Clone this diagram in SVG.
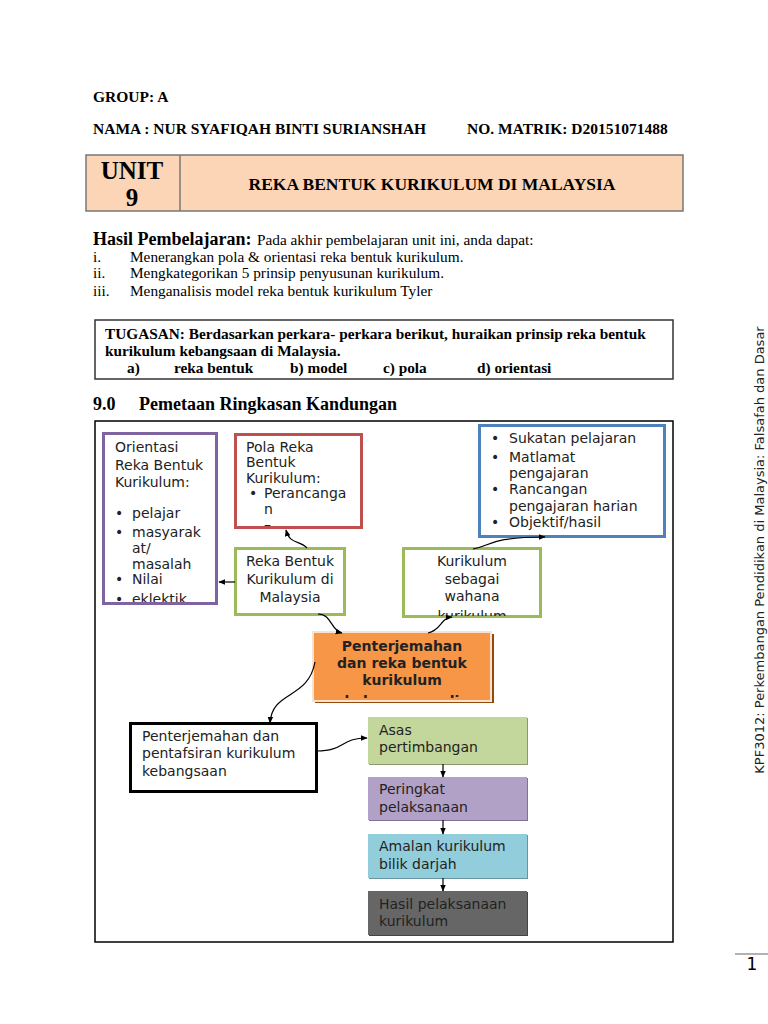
<svg xmlns="http://www.w3.org/2000/svg" width="768" height="1024" viewBox="0 0 768 1024">
<style>
.sb{font-family:"Liberation Serif","Times New Roman",serif;font-weight:bold;fill:#000}
.sr{font-family:"Liberation Serif","Times New Roman",serif;fill:#000}
.n{font-family:"DejaVu Sans",Verdana,sans-serif;font-size:14px;fill:#222}
.c{fill:none;stroke:#000;stroke-width:1.2}
</style>
<defs>
<marker id="ah" viewBox="0 0 10 10" refX="9" refY="5" markerWidth="7" markerHeight="7" orient="auto-start-reverse" markerUnits="userSpaceOnUse">
<path d="M0,1 L10,5 L0,9 z" fill="#000"/>
</marker>
<clipPath id="cOr"><rect x="105" y="435" width="110" height="167"/></clipPath>
<clipPath id="cPo"><rect x="237" y="436" width="123" height="90"/></clipPath>
<clipPath id="cKu"><rect x="405" y="550" width="134" height="66"/></clipPath>
<clipPath id="cOg"><rect x="316" y="635" width="174" height="63"/></clipPath>
</defs>
<rect width="768" height="1024" fill="#fff"/>

<g id="header">
<text class="sb" x="93" y="102" font-size="15.5">GROUP: A</text>
<text class="sb" x="93" y="134" font-size="15.5">NAMA  : NUR SYAFIQAH BINTI SURIANSHAH</text>
<text class="sb" x="467" y="134" font-size="15.5">NO. MATRIK: D20151071488</text>
</g>

<g id="unit-table">
<rect x="86" y="155" width="597" height="56" fill="#fbd5b5" stroke="#777" stroke-width="1.5"/>
<line x1="180" y1="155" x2="180" y2="211" stroke="#777" stroke-width="1.5"/>
<text class="sb" x="132" y="179" font-size="25" text-anchor="middle">UNIT</text>
<text class="sb" x="132" y="206" font-size="25" text-anchor="middle">9</text>
<text class="sb" x="432" y="190" font-size="17.5" text-anchor="middle">REKA BENTUK KURIKULUM DI MALAYSIA</text>
</g>

<g id="hasil">
<text class="sb" x="93" y="245" font-size="18">Hasil Pembelajaran:</text>
<text class="sr" x="257" y="245" font-size="15.3">Pada akhir pembelajaran unit ini, anda dapat:</text>
<text class="sr" x="93" y="262" font-size="15.3">i.</text>
<text class="sr" x="130" y="262" font-size="15.3">Menerangkan pola &amp; orientasi reka bentuk kurikulum.</text>
<text class="sr" x="93" y="278" font-size="15.3">ii.</text>
<text class="sr" x="130" y="278" font-size="15.3">Mengkategorikan 5 prinsip penyusunan kurikulum.</text>
<text class="sr" x="93" y="296" font-size="15.3">iii.</text>
<text class="sr" x="130" y="296" font-size="15.3">Menganalisis model reka bentuk kurikulum Tyler</text>
</g>

<g id="tugasan">
<rect x="95" y="320" width="578" height="59" fill="#fff" stroke="#333" stroke-width="1.5"/>
<text class="sb" x="105" y="339" font-size="15.3">TUGASAN: Berdasarkan perkara- perkara berikut, huraikan prinsip reka bentuk</text>
<text class="sb" x="105" y="356" font-size="15.3">kurikulum kebangsaan di Malaysia.</text>
<text class="sb" x="127" y="373" font-size="15.3">a)</text>
<text class="sb" x="174" y="373" font-size="15.3">reka bentuk</text>
<text class="sb" x="290" y="373" font-size="15.3">b) model</text>
<text class="sb" x="383" y="373" font-size="15.3">c) pola</text>
<text class="sb" x="477" y="373" font-size="15.3">d) orientasi</text>
</g>

<g id="section-title">
<text class="sb" x="93" y="410" font-size="18">9.0</text>
<text class="sb" x="139" y="410" font-size="18">Pemetaan Ringkasan Kandungan</text>
</g>

<rect id="frame" x="95" y="421" width="578" height="521" fill="none" stroke="#000" stroke-width="1.5"/>

<g id="orientasi">
<rect x="103.5" y="433.5" width="113" height="170" fill="#fff" stroke="#8064a2" stroke-width="3"/>
<g clip-path="url(#cOr)">
<text class="n" x="115" y="452">Orientasi</text>
<text class="n" x="115" y="470">Reka Bentuk</text>
<text class="n" x="115" y="487">Kurikulum:</text>
<text class="n" x="115" y="518">•</text><text class="n" x="132" y="518">pelajar</text>
<text class="n" x="115" y="537">•</text><text class="n" x="132" y="537">masyarak</text>
<text class="n" x="132" y="553">at/</text>
<text class="n" x="132" y="569">masalah</text>
<text class="n" x="115" y="584">•</text><text class="n" x="132" y="584">Nilai</text>
<text class="n" x="115" y="604">•</text><text class="n" x="132" y="604">eklektik</text>
</g>
</g>

<g id="pola">
<rect x="235.5" y="434.5" width="126" height="93" fill="#fff" stroke="#c0504d" stroke-width="3"/>
<g clip-path="url(#cPo)">
<text class="n" x="246" y="452">Pola Reka</text>
<text class="n" x="246" y="467">Bentuk</text>
<text class="n" x="246" y="483">Kurikulum:</text>
<text class="n" x="249" y="498">•</text><text class="n" x="264" y="498">Perancanga</text>
<text class="n" x="264" y="514">n</text>
<text class="n" x="264" y="529">–</text>
</g>
</g>

<g id="reka-bentuk">
<rect x="235.5" y="548.5" width="109" height="66" fill="#fff" stroke="#9bbb59" stroke-width="3"/>
<text class="n" x="290" y="566" text-anchor="middle">Reka Bentuk</text>
<text class="n" x="290" y="584" text-anchor="middle">Kurikulum di</text>
<text class="n" x="290" y="602" text-anchor="middle">Malaysia</text>
</g>

<g id="sukatan">
<rect x="479.5" y="425.5" width="185" height="111" fill="#fff" stroke="#4f81bd" stroke-width="3"/>
<text class="n" x="491" y="443">•</text><text class="n" x="509" y="443">Sukatan pelajaran</text>
<text class="n" x="491" y="462">•</text><text class="n" x="509" y="462">Matlamat</text>
<text class="n" x="509" y="478">pengajaran</text>
<text class="n" x="491" y="494">•</text><text class="n" x="509" y="494">Rancangan</text>
<text class="n" x="509" y="511">pengajaran harian</text>
<text class="n" x="491" y="527">•</text><text class="n" x="509" y="527">Objektif/hasil</text>
</g>

<g id="wahana">
<rect x="403.5" y="548.5" width="137" height="68" fill="#fff" stroke="#9bbb59" stroke-width="3"/>
<g clip-path="url(#cKu)">
<text class="n" x="472" y="566" text-anchor="middle">Kurikulum</text>
<text class="n" x="472" y="584" text-anchor="middle">sebagai</text>
<text class="n" x="472" y="601" text-anchor="middle">wahana</text>
<text class="n" x="472" y="621" text-anchor="middle">kurikulum</text>
</g>
</g>

<g id="penterjemahan-reka">
<rect x="315" y="634" width="179" height="69" fill="#984807"/>
<rect x="313" y="632" width="178" height="69" fill="#f79646" stroke="#f6e3d4" stroke-width="2"/>
<g clip-path="url(#cOg)">
<text class="n" x="402" y="651" text-anchor="middle" font-weight="bold">Penterjemahan</text>
<text class="n" x="402" y="668" text-anchor="middle" font-weight="bold">dan reka bentuk</text>
<text class="n" x="402" y="685" text-anchor="middle" font-weight="bold">kurikulum</text>
<text class="n" x="402" y="706" text-anchor="middle" font-weight="bold">kebangsaan di</text>
</g>
</g>

<g id="pentafsiran">
<rect x="130.5" y="723.5" width="186" height="68" fill="#fff" stroke="#000" stroke-width="3"/>
<text class="n" x="142" y="741">Penterjemahan dan</text>
<text class="n" x="142" y="758">pentafsiran kurikulum</text>
<text class="n" x="142" y="776">kebangsaan</text>
</g>

<g id="asas">
<rect x="369" y="718" width="159" height="47" fill="#8a9a6c"/>
<rect x="368" y="717" width="159" height="47" fill="#c3d69b"/>
<text class="n" x="379" y="735">Asas</text>
<text class="n" x="379" y="752">pertimbangan</text>
</g>

<g id="peringkat">
<rect x="369" y="778" width="159" height="43" fill="#7f7296"/>
<rect x="368" y="777" width="159" height="43" fill="#b2a1c7"/>
<text class="n" x="379" y="794">Peringkat</text>
<text class="n" x="379" y="812">pelaksanaan</text>
</g>

<g id="amalan">
<rect x="369" y="835" width="159" height="44" fill="#6895a1"/>
<rect x="368" y="834" width="159" height="44" fill="#92cddc"/>
<text class="n" x="379" y="851">Amalan kurikulum</text>
<text class="n" x="379" y="869">bilik darjah</text>
</g>

<g id="hasil-pelaksanaan">
<rect x="369" y="892" width="159" height="44" fill="#444"/>
<rect x="368" y="891" width="159" height="44" fill="#666"/>
<text class="n" x="379" y="909">Hasil pelaksanaan</text>
<text class="n" x="379" y="926">kurikulum</text>
</g>

<g id="connectors">
<path class="c" d="M235,582 L219,582" marker-end="url(#ah)"/>
<path class="c" d="M307,548 C300,540 290,545 286,530" marker-end="url(#ah)"/>
<path class="c" d="M318,614 C332,614 330,630 342,633" marker-end="url(#ah)"/>
<path class="c" d="M428,633 C442,630 440,618 452,617" marker-end="url(#ah)"/>
<path class="c" d="M473,549 C490,546 490,537 545,537" marker-end="url(#ah)"/>
<path class="c" d="M315,662 C308,700 272,690 270,723" marker-end="url(#ah)"/>
<path class="c" d="M317,751 C345,751 340,738 367,738" marker-end="url(#ah)"/>
<path class="c" d="M443,764 L443,777" marker-end="url(#ah)"/>
<path class="c" d="M443,820 L443,834" marker-end="url(#ah)"/>
<path class="c" d="M443,878 L443,891" marker-end="url(#ah)"/>
</g>

<g id="side">
<text class="n" x="0" y="0" style="font-size:13px" text-anchor="middle" transform="translate(764,550) rotate(-90)">KPF3012: Perkembangan Pendidikan di Malaysia: Falsafah dan Dasar</text>
<line x1="735" y1="954" x2="768" y2="954" stroke="#999" stroke-width="1.5"/>
<text class="n" x="752" y="970" style="font-size:17px;fill:#000" text-anchor="middle">1</text>
</g>
</svg>
